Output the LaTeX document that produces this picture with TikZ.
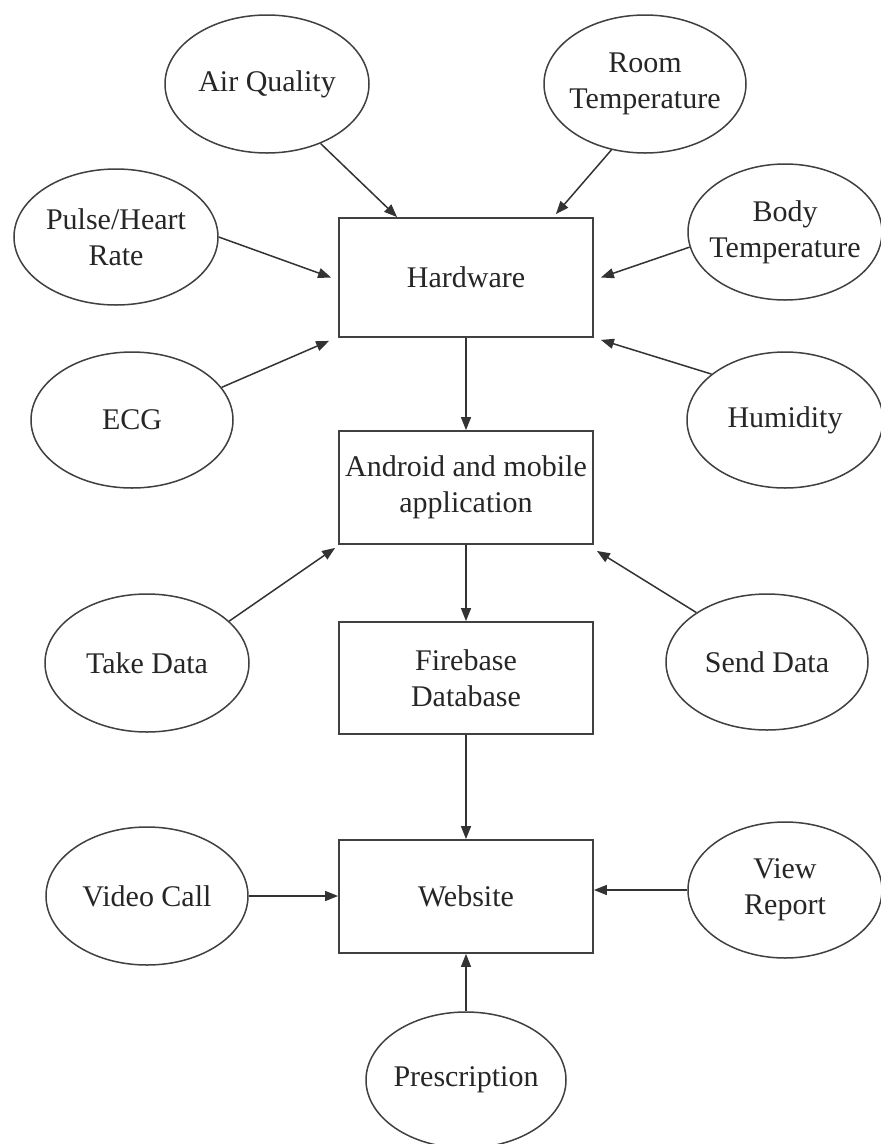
\documentclass[tikz,border=0pt]{standalone}
\usepackage{fontspec}
\setmainfont{Liberation Serif}
\usetikzlibrary{arrows.meta,shapes.geometric,calc}
\begin{document}
\begin{tikzpicture}[x=1pt,y=-1pt,
  every node/.style={font=\fontsize{30}{36}\selectfont, text=black!85},
  ell/.style={draw=black!75, line width=1.5pt, ellipse, inner xsep=-40pt, inner ysep=-20pt, align=center},
  blk/.style={draw=black!75, line width=1.8pt, rectangle, inner sep=0pt, minimum width=254pt, align=center},
  arr/.style={draw=black!80, line width=1.5pt, -{Triangle[length=13pt,width=10pt]}}
]
\useasboundingbox (0,0) rectangle (881,1144);
\fill[white] (0,0) rectangle (881,1144);

% boxes
\node[blk, minimum height=119pt] (hw)  at (466,277.5) {Hardware};
\node[blk, minimum height=113pt] (app) at (466,487.5) {Android and mobile\\application};
\node[blk, minimum height=112pt] (fb)  at (466,678)   {Firebase\\Database};
\node[blk, minimum height=113pt] (web) at (466,896.5) {Website};

% ellipses
\node[ell, minimum width=204pt, minimum height=138pt] (aq)    at (267,84)  {Air Quality};
\node[ell, minimum width=202pt, minimum height=138pt] (rt)    at (645,84)  {Room\\Temperature};
\node[ell, minimum width=204pt, minimum height=136pt] (pulse) at (116,237) {Pulse/Heart\\Rate};
\node[ell, minimum width=194pt, minimum height=136pt] (body)  at (785,232) {Body\\Temperature};
\node[ell, minimum width=202pt, minimum height=136pt] (ecg)   at (132,420) {ECG};
\node[ell, minimum width=196pt, minimum height=136pt] (hum)   at (785,420) {Humidity};
\node[ell, minimum width=204pt, minimum height=138pt] (take)  at (147,663) {Take Data};
\node[ell, minimum width=202pt, minimum height=136pt] (send)  at (767,662) {Send Data};
\node[ell, minimum width=202pt, minimum height=138pt] (video) at (147,896) {Video Call};
\node[ell, minimum width=194pt, minimum height=136pt] (view)  at (785,890) {View\\Report};
\node[ell, minimum width=200pt, minimum height=136pt] (presc) at (466,1080) {Prescription};

% connectors
\draw[arr] (aq.-48) -- ($(hw.north west)+(59,0)$);
\draw[arr] (rt.243) -- ($(hw.north east)+(-38,-3)$);
\draw[arr] (pulse.east) -- ($(hw.west)+(-7,0)$);
\draw[arr] (body.189) -- ($(hw.east)+(7,0)$);
\draw[arr] (ecg.20) -- ($(hw.south west)+(-9,3)$);
\draw[arr] (hum.148) -- ($(hw.south east)+(7,2)$);
\draw[arr] (hw) -- (app);
\draw[arr] (take.27) -- ($(app.south west)+(-3,3)$);
\draw[arr] (send.145) -- ($(app.south east)+(3,6)$);
\draw[arr] (app) -- (fb);
\draw[arr] (fb) -- (web);
\draw[arr] (video.east) -- (video.east -| web.west);
\draw[arr] (view.west) -- (view.west -| web.east);
\draw[arr] (presc) -- (web);
\end{tikzpicture}
\end{document}
